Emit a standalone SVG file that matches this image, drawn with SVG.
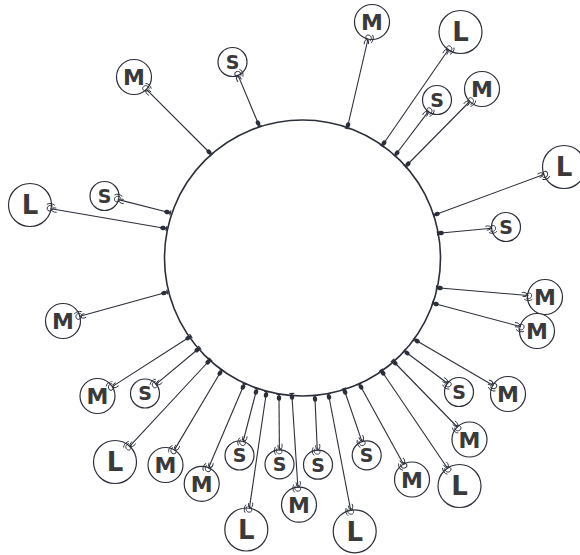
<svg xmlns="http://www.w3.org/2000/svg" width="580" height="555" viewBox="0 0 580 555">
<style>
.c line{stroke:#2b2f3a;stroke-width:1.1;fill:none;marker-start:url(#dot);marker-end:url(#hook)}
.n circle{fill:#fff;stroke:#2b2f3a;stroke-width:1.2}
.n text{font-family:"DejaVu Sans",sans-serif;font-weight:bold;fill:#3a3a3a;text-anchor:middle}
.S text{font-size:19px}
.M text{font-size:22px}
.L text{font-size:26px}
</style>
<defs>
<marker id="dot" markerUnits="userSpaceOnUse" markerWidth="12" markerHeight="12" refX="0" refY="0" viewBox="-6 -6 12 12" orient="auto" overflow="visible">
<path d="M0,0 L-4,0" stroke="#2b2f3a" stroke-width="1.4"/>
<ellipse cx="0" cy="0" rx="2.8" ry="2.2" fill="#2b2f3a"/>
<path d="M-3.5,-2.5 L-3.5,2.5" stroke="#2b2f3a" stroke-width="1.2"/>
</marker>
<marker id="hook" markerUnits="userSpaceOnUse" markerWidth="20" markerHeight="20" refX="0" refY="0" viewBox="-10 -10 20 20" orient="auto" overflow="visible">
<path d="M-2,0 C0,-3.5 4,-3.5 4,0 C4,3 0.5,4 -1.5,2.5 M-6,-2.5 C-3,-3.5 -0.5,-2 0.5,0 M-3,4 C-0.5,5.5 3,5.5 5,3.5 M-5,1.5 L-1,1" stroke="#2b2f3a" stroke-width="0.9" fill="none"/>
</marker>
</defs>
<circle cx="302.5" cy="258" r="138" fill="none" stroke="#2b2f3a" stroke-width="1.6"/>
<g id="n1" class="n M"><circle cx="134" cy="77" r="17.5"/><text x="134" y="85">M</text></g>
<g id="n2" class="n S"><circle cx="232.5" cy="62" r="14.5"/><text x="232.5" y="68.8">S</text></g>
<g id="n3" class="n M"><circle cx="372" cy="22" r="17.5"/><text x="372" y="30">M</text></g>
<g id="n4" class="n L"><circle cx="460.5" cy="32" r="21.5"/><text x="460.5" y="41.4">L</text></g>
<g id="n5" class="n S"><circle cx="437" cy="100" r="14.5"/><text x="437" y="106.8">S</text></g>
<g id="n6" class="n M"><circle cx="482" cy="89" r="17.5"/><text x="482" y="97">M</text></g>
<g id="n7" class="n L"><circle cx="564" cy="167" r="21.5"/><text x="564" y="176.4">L</text></g>
<g id="n8" class="n S"><circle cx="506" cy="227" r="14.5"/><text x="506" y="233.8">S</text></g>
<g id="n9" class="n M"><circle cx="545" cy="297" r="17.5"/><text x="545" y="305">M</text></g>
<g id="n10" class="n M"><circle cx="537" cy="331" r="17.5"/><text x="537" y="339">M</text></g>
<g id="n11" class="n M"><circle cx="508" cy="394" r="17.5"/><text x="508" y="402">M</text></g>
<g id="n12" class="n S"><circle cx="459" cy="392" r="14.5"/><text x="459" y="398.8">S</text></g>
<g id="n13" class="n M"><circle cx="469.5" cy="439.5" r="17.5"/><text x="469.5" y="447.5">M</text></g>
<g id="n14" class="n L"><circle cx="459.5" cy="486" r="21.5"/><text x="459.5" y="495.4">L</text></g>
<g id="n15" class="n M"><circle cx="412" cy="479.5" r="17.5"/><text x="412" y="487.5">M</text></g>
<g id="n16" class="n S"><circle cx="366.7" cy="455.3" r="14.5"/><text x="366.7" y="462.1">S</text></g>
<g id="n17" class="n L"><circle cx="354.7" cy="531.3" r="21.5"/><text x="354.7" y="540.7">L</text></g>
<g id="n18" class="n S"><circle cx="318" cy="464.7" r="14.5"/><text x="318" y="471.5">S</text></g>
<g id="n19" class="n M"><circle cx="299" cy="504.7" r="17.5"/><text x="299" y="512.7">M</text></g>
<g id="n20" class="n S"><circle cx="279.5" cy="464.3" r="14.5"/><text x="279.5" y="471.1">S</text></g>
<g id="n21" class="n L"><circle cx="246.3" cy="529.5" r="21.5"/><text x="246.3" y="538.9">L</text></g>
<g id="n22" class="n S"><circle cx="239.5" cy="455.5" r="14.5"/><text x="239.5" y="462.3">S</text></g>
<g id="n23" class="n M"><circle cx="201.7" cy="483.8" r="17.5"/><text x="201.7" y="491.8">M</text></g>
<g id="n24" class="n M"><circle cx="165.5" cy="465" r="17.5"/><text x="165.5" y="473">M</text></g>
<g id="n25" class="n L"><circle cx="115" cy="462" r="21.5"/><text x="115" y="471.4">L</text></g>
<g id="n26" class="n S"><circle cx="145" cy="393.5" r="14.5"/><text x="145" y="400.3">S</text></g>
<g id="n27" class="n M"><circle cx="97.5" cy="396" r="17.5"/><text x="97.5" y="404">M</text></g>
<g id="n28" class="n M"><circle cx="63" cy="321" r="17.5"/><text x="63" y="329">M</text></g>
<g id="n29" class="n L"><circle cx="30" cy="205" r="21.5"/><text x="30" y="214.4">L</text></g>
<g id="n30" class="n S"><circle cx="104.5" cy="196" r="14.5"/><text x="104.5" y="202.8">S</text></g>
<g id="connectors" class="c">
<line x1="209" y1="152" x2="146.4" y2="89.4"/>
<line x1="258" y1="123" x2="238.1" y2="75.4"/>
<line x1="348" y1="125" x2="368" y2="39"/>
<line x1="384" y1="143" x2="448.3" y2="49.7"/>
<line x1="397" y1="153" x2="428.3" y2="111.6"/>
<line x1="408" y1="164" x2="469.7" y2="101.5"/>
<line x1="437" y1="214" x2="543.8" y2="174.5"/>
<line x1="441" y1="233" x2="491.6" y2="228.3"/>
<line x1="440" y1="288" x2="527.6" y2="295.5"/>
<line x1="436" y1="304" x2="520.1" y2="326.5"/>
<line x1="417" y1="341" x2="492.9" y2="385.2"/>
<line x1="407" y1="353" x2="447.4" y2="383.3"/>
<line x1="395" y1="363" x2="457.3" y2="427"/>
<line x1="383" y1="373" x2="447.5" y2="468.2"/>
<line x1="361" y1="387" x2="403.5" y2="464.2"/>
<line x1="345" y1="392" x2="362" y2="441.6"/>
<line x1="329" y1="397" x2="350.7" y2="510.2"/>
<line x1="315" y1="399" x2="317.3" y2="450.2"/>
<line x1="292" y1="397" x2="297.9" y2="487.2"/>
<line x1="279" y1="398" x2="279.4" y2="449.8"/>
<line x1="266" y1="395" x2="249.4" y2="508.2"/>
<line x1="256" y1="392" x2="243.1" y2="441.5"/>
<line x1="243" y1="387" x2="208.6" y2="467.7"/>
<line x1="220" y1="373" x2="174.4" y2="449.9"/>
<line x1="208" y1="362" x2="129.6" y2="446.3"/>
<line x1="197" y1="350" x2="156.1" y2="384.2"/>
<line x1="188" y1="338" x2="112.2" y2="386.6"/>
<line x1="164" y1="293" x2="79.9" y2="316.3"/>
<line x1="163" y1="228" x2="51.2" y2="208.7"/>
<line x1="167" y1="212" x2="118.5" y2="199.6"/>
</g>
</svg>
